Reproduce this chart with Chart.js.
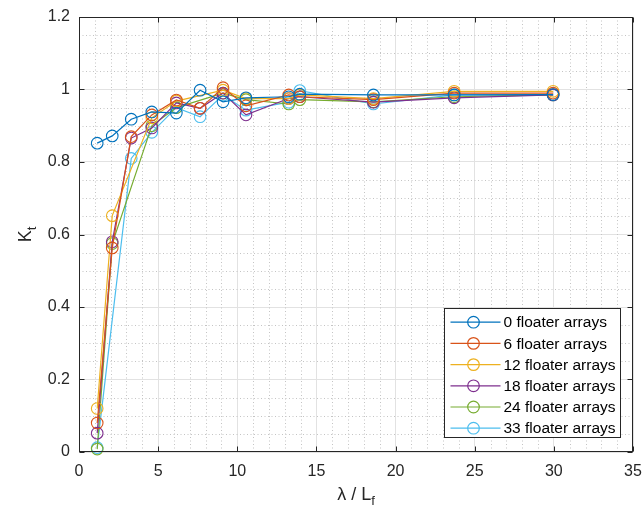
<!DOCTYPE html>
<html>
<head>
<meta charset="utf-8">
<script src="https://cdn.jsdelivr.net/npm/chart.js@4.4.1/dist/chart.umd.min.js"></script>
<style>
  html, body { margin: 0; padding: 0; background: #fff; }
  #wrap { width: 643px; height: 508px; position: relative; }
</style>
</head>
<body>
<div id="wrap"><canvas id="chart"></canvas></div>
<script>
// lambda / L_f sample positions
const ratios = [1.15, 2.1, 3.3, 4.6, 6.15, 7.65, 9.1, 10.55, 13.25, 13.95, 18.6, 23.7, 29.95];

// K_t per floater configuration (null = no sample there)
const kt0  = [0.852, 0.872, 0.918, 0.938, 0.935, 0.998, 0.966, 0.977, 0.980, 0.987, 0.985, 0.985, 0.986];
const kt6  = [0.080, 0.563, 0.870, 0.930, 0.971, 0.948, 1.005, 0.955, 0.985, 0.980, 0.972, 0.990, 0.990];
const kt12 = [0.120, 0.652, null,  0.922, 0.968, null,  0.998, 0.975, 0.975, 0.985, 0.975, 0.995, 0.995];
const kt18 = [0.052, 0.580, 0.866, 0.894, 0.963, 0.948, 0.990, 0.930, 0.975, 0.980, 0.965, 0.977, 0.985];
const kt24 = [0.008, 0.575, null,  0.900, 0.950, null,  0.990, 0.972, 0.960, 0.972, 0.966, 0.980, 0.985];
const kt33 = [0.012, null,  0.810, 0.882, 0.950, 0.925, 0.985, 0.943, 0.965, 0.997, 0.960, 0.985, 0.985];

const seriesLabels = ['0 floater arrays', '6 floater arrays', '12 floater arrays',
  '18 floater arrays', '24 floater arrays', '33 floater arrays'];
const seriesColors = ['#0072BD', '#D95319', '#EDB120', '#7E2F8E', '#77AC30', '#4DBEEE'];

const xTicks = [0, 5, 10, 15, 20, 25, 30, 35];
const yTicks = [0, 0.2, 0.4, 0.6, 0.8, 1, 1.2];
const yTickLabels = ['0', '0.2', '0.4', '0.6', '0.8', '1', '1.2'];

const AXIS_COLOR = '#262626';
const FONT = '"Liberation Sans", Arial, sans-serif';

const allSeries = [kt0, kt6, kt12, kt18, kt24, kt33];

const datasets = allSeries.map((vals, i) => ({
  label: seriesLabels[i],
  data: ratios.map((x, j) => ({ x, y: vals[j] })),
  borderColor: seriesColors[i],
  backgroundColor: 'rgba(0,0,0,0)',
  pointBorderColor: seriesColors[i],
  pointBackgroundColor: 'rgba(0,0,0,0)',
  borderWidth: 1.2,
  pointRadius: 5.8,
  pointBorderWidth: 1.1,
  pointHoverRadius: 5.8,
  tension: 0,
  spanGaps: true,
  clip: false,
}));

// dotted minor grid, like MATLAB "grid minor"
const minorGrid = {
  id: 'minorGrid',
  beforeDatasetsDraw(chart) {
    const { ctx, chartArea: a, scales: { x, y } } = chart;
    ctx.save();
    ctx.strokeStyle = '#c4c4c4';
    ctx.lineWidth = 1;
    ctx.setLineDash([1, 2.5]);
    for (let v = 1; v < 35; v++) {
      if (v % 5 === 0) continue;
      const px = Math.round(x.getPixelForValue(v)) + 0.5;
      ctx.beginPath(); ctx.moveTo(px, a.top); ctx.lineTo(px, a.bottom); ctx.stroke();
    }
    for (let k = 1; k < 24; k++) {
      if (k % 4 === 0) continue;
      const py = Math.round(y.getPixelForValue(k * 0.05)) + 0.5;
      ctx.beginPath(); ctx.moveTo(a.left, py); ctx.lineTo(a.right, py); ctx.stroke();
    }
    ctx.restore();
  },
};

// box with inward tick marks on all sides
const axesBox = {
  id: 'axesBox',
  afterDatasetsDraw(chart) {
    const { ctx, chartArea: a, scales: { x, y } } = chart;
    ctx.save();
    ctx.strokeStyle = AXIS_COLOR;
    ctx.lineWidth = 1;
    ctx.setLineDash([]);
    const L = Math.round(a.left) + 0.5, R = Math.round(a.right) - 0.5;
    const T = Math.round(a.top) + 0.5, B = Math.round(a.bottom) - 0.5;
    ctx.strokeRect(L, T, R - L, B - T);
    const len = 5;
    ctx.beginPath();
    xTicks.forEach((v) => {
      const px = Math.round(x.getPixelForValue(v)) + 0.5;
      ctx.moveTo(px, B); ctx.lineTo(px, B - len);
      ctx.moveTo(px, T); ctx.lineTo(px, T + len);
    });
    yTicks.forEach((v) => {
      const py = Math.round(y.getPixelForValue(v)) + 0.5;
      ctx.moveTo(L, py); ctx.lineTo(L + len, py);
      ctx.moveTo(R, py); ctx.lineTo(R - len, py);
    });
    ctx.stroke();
    ctx.restore();
  },
};

// axis titles with subscripts
const axisTitles = {
  id: 'axisTitles',
  afterDraw(chart) {
    const { ctx, chartArea: a } = chart;
    ctx.save();
    ctx.fillStyle = AXIS_COLOR;
    ctx.textBaseline = 'alphabetic';
    const big = `18px ${FONT}`, small = `13px ${FONT}`;

    // x title
    ctx.font = big;
    const main = 'λ / L';
    const wMain = ctx.measureText(main).width;
    ctx.font = small;
    const wSub = ctx.measureText('f').width;
    const cx = (a.left + a.right) / 2;
    let sx = cx - (wMain + wSub) / 2;
    const by = 500;
    ctx.font = big; ctx.textAlign = 'left';
    ctx.fillText(main, sx, by);
    ctx.font = small;
    ctx.fillText('f', sx + wMain, by + 5);

    // y title
    ctx.translate(31, (a.top + a.bottom) / 2);
    ctx.rotate(-Math.PI / 2);
    ctx.font = big;
    const wK = ctx.measureText('K').width;
    ctx.font = small;
    const wT = ctx.measureText('t').width;
    sx = -(wK + wT) / 2;
    ctx.font = big;
    ctx.fillText('K', sx, 0);
    ctx.font = small;
    ctx.fillText('t', sx + wK, 5);
    ctx.restore();
  },
};

// legend box in the lower right of the axes
const boxLegend = {
  id: 'boxLegend',
  afterDraw(chart) {
    const { ctx, chartArea: a } = chart;
    const rowH = 21.2;
    const boxW = 176;
    const boxH = 129;
    const bx = Math.round(a.right - 13 - boxW) + 0.5;
    const byTop = Math.round(a.bottom - 15 - boxH) + 0.5;
    ctx.save();
    ctx.fillStyle = '#fff';
    ctx.fillRect(bx, byTop, boxW, boxH);
    ctx.strokeStyle = AXIS_COLOR;
    ctx.lineWidth = 1;
    ctx.strokeRect(bx, byTop, boxW, boxH);
    ctx.font = `15.5px ${FONT}`;
    ctx.textBaseline = 'middle';
    ctx.textAlign = 'left';
    seriesLabels.forEach((label, i) => {
      const cy = byTop + 13.7 + i * rowH;
      ctx.strokeStyle = seriesColors[i];
      ctx.lineWidth = 1.2;
      ctx.beginPath();
      ctx.moveTo(bx + 6, cy); ctx.lineTo(bx + 56, cy);
      ctx.stroke();
      ctx.beginPath();
      ctx.arc(bx + 29, cy, 5.8, 0, Math.PI * 2);
      ctx.stroke();
      ctx.fillStyle = '#000';
      ctx.fillText(label, bx + 59, cy + 1);
    });
    ctx.restore();
  },
};

new Chart(document.getElementById('chart'), {
  type: 'line',
  data: { datasets },
  options: {
    responsive: true,
    maintainAspectRatio: false,
    animation: false,
    layout: { padding: { top: 17, right: 10, left: 0, bottom: 0 } },
    plugins: {
      legend: { display: false },
      tooltip: { enabled: false },
    },
    scales: {
      x: {
        type: 'linear',
        min: 0,
        max: 35,
        afterBuildTicks: (scale) => { scale.ticks = xTicks.map((v) => ({ value: v })); },
        afterFit: (scale) => {
          scale.height = 56;
          scale.paddingLeft = 0;
          scale.paddingRight = 0;
        },
        grid: { color: '#e2e2e2', lineWidth: 1, drawTicks: false },
        border: { display: false },
        ticks: {
          padding: 10,
          color: AXIS_COLOR,
          font: { family: FONT, size: 16 },
          maxRotation: 0,
          callback: (v) => String(v),
        },
      },
      y: {
        type: 'linear',
        min: 0,
        max: 1.2,
        afterBuildTicks: (scale) => { scale.ticks = yTicks.map((v) => ({ value: v })); },
        afterFit: (scale) => {
          scale.width = 79;
          scale.paddingTop = 0;
          scale.paddingBottom = 0;
        },
        grid: { color: '#e2e2e2', lineWidth: 1, drawTicks: false },
        border: { display: false },
        ticks: {
          padding: 9,
          color: AXIS_COLOR,
          font: { family: FONT, size: 16 },
          callback: (v) => yTickLabels[yTicks.indexOf(v)] ?? String(v),
        },
      },
    },
  },
  plugins: [minorGrid, axesBox, axisTitles, boxLegend],
});
</script>
</body>
</html>
